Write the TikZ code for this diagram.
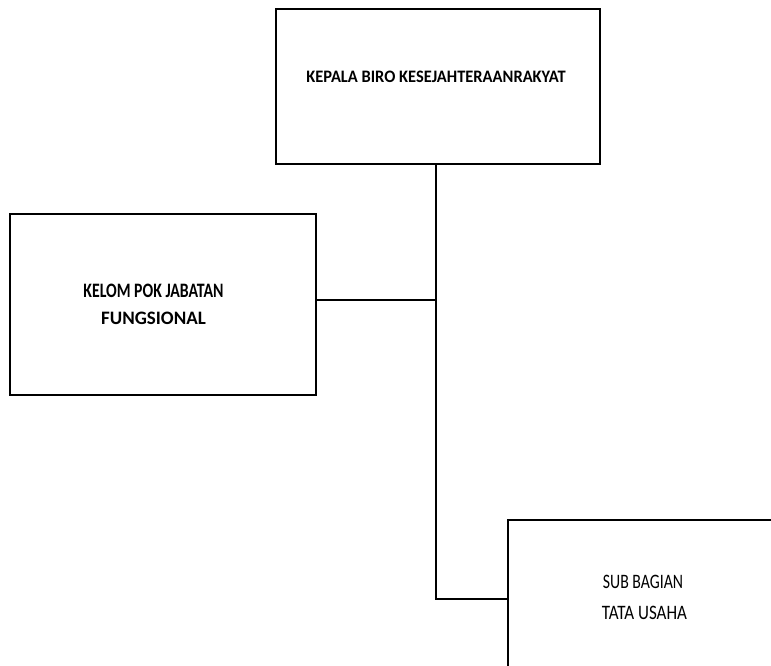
\documentclass[tikz,border=0pt]{standalone}
\usepackage{fontspec}
\setmainfont{Carlito}
\usetikzlibrary{positioning}

\newcommand{\narrow}[2]{\scalebox{#1}[1]{#2}}

\begin{document}
\begin{tikzpicture}[%
x=1pt, y=-1pt,
box/.style={draw, line width=1.5pt, inner sep=0pt},
line/.style={line width=1.5pt},
boxtext/.style={inner sep=0pt, font=\fontsize{20.5}{22}\selectfont}
]

\useasboundingbox (0,0) rectangle (771,666);
\clip (0,0) rectangle (771,666);

\node[box, minimum width=324pt, minimum height=155pt] (kepala) at (438,86.5) {};
\node[boxtext, font=\fontsize{17.5}{20}\selectfont\bfseries] (kepalatxt) at (436,76.5) {\narrow{0.94}{KEPALA BIRO KESEJAHTERAANRAKYAT}};

\node[box, minimum width=306pt, minimum height=181pt] (kelompok) at (163,304.5) {};
\node[boxtext] (kelompoktxt) at (153.5,290.5) {\narrow{0.77}{\bfseries KELOM POK JABATAN}};
\node[boxtext, font=\fontsize{19}{20}\selectfont\bfseries] (fungsional) at (153.5,318) {FUNGSIONAL};

\node[box, minimum width=300pt, minimum height=170pt] (subbag) at (658,605) {};
\node[boxtext] (subbagtxt) at (643,581.5) {\narrow{0.77}{SUB BAGIAN}};
\node[boxtext] (tatausaha) at (644.5,612.5) {\narrow{0.83}{TATA USAHA}};

\coordinate (branch) at (436,300);
\coordinate (trunk) at (436,599);

\draw[line] (kepala.south -| trunk) -- (trunk) -- (subbag.west |- trunk);
\draw[line] (branch -| kelompok.east) -- (branch);

\end{tikzpicture}
\end{document}
